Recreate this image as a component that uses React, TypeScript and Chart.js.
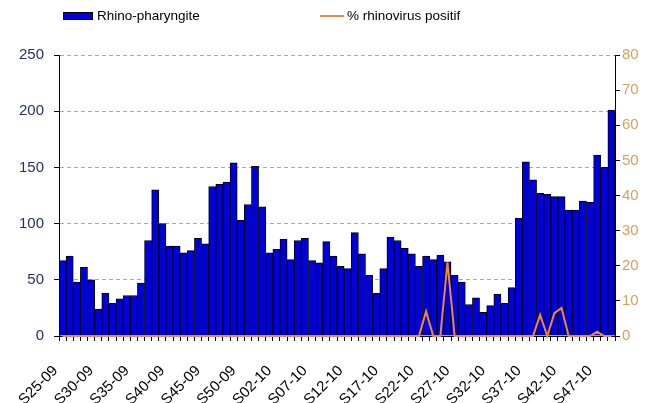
import React, { useEffect, useRef } from 'react';
import { Chart, registerables } from 'chart.js';

Chart.register(...registerables);

const weeks: string[] = [
  'S25-09', 'S26-09', 'S27-09', 'S28-09', 'S29-09', 'S30-09', 'S31-09', 'S32-09', 'S33-09', 'S34-09',
  'S35-09', 'S36-09', 'S37-09', 'S38-09', 'S39-09', 'S40-09', 'S41-09', 'S42-09', 'S43-09', 'S44-09',
  'S45-09', 'S46-09', 'S47-09', 'S48-09', 'S49-09', 'S50-09', 'S51-09', 'S52-09', 'S53-09',
  'S01-10', 'S02-10', 'S03-10', 'S04-10', 'S05-10', 'S06-10', 'S07-10', 'S08-10', 'S09-10', 'S10-10',
  'S11-10', 'S12-10', 'S13-10', 'S14-10', 'S15-10', 'S16-10', 'S17-10', 'S18-10', 'S19-10', 'S20-10',
  'S21-10', 'S22-10', 'S23-10', 'S24-10', 'S25-10', 'S26-10', 'S27-10', 'S28-10', 'S29-10', 'S30-10',
  'S31-10', 'S32-10', 'S33-10', 'S34-10', 'S35-10', 'S36-10', 'S37-10', 'S38-10', 'S39-10', 'S40-10',
  'S41-10', 'S42-10', 'S43-10', 'S44-10', 'S45-10', 'S46-10', 'S47-10', 'S48-10', 'S49-10',
];

const rhinoPharyngite: number[] = [
  67, 71, 48, 61, 50, 24, 38, 29, 33, 36,
  36, 47, 85, 130, 100, 80, 80, 74, 76, 87,
  82, 133, 135, 137, 154, 103, 117, 151, 115,
  74, 77, 86, 68, 85, 87, 67, 65, 84, 71,
  62, 60, 92, 73, 54, 38, 60, 88, 85, 78,
  73, 62, 71, 68, 72, 66, 54, 48, 28, 34,
  21, 27, 37, 29, 43, 105, 155, 139, 127, 126,
  124, 124, 112, 112, 120, 119, 161, 150, 201,
];

const pctRhinovirus: number[] = [
  0, 0, 0, 0, 0, 0, 0, 0, 0, 0,
  0, 0, 0, 0, 0, 0, 0, 0, 0, 0,
  0, 0, 0, 0, 0, 0, 0, 0, 0,
  0, 0, 0, 0, 0, 0, 0, 0, 0, 0,
  0, 0, 0, 0, 0, 0, 0, 0, 0, 0,
  0, 0, 7, 0, 0, 21, 0, 0, 0, 0,
  0, 0, 0, 0, 0, 0, 0, 0, 6, 0,
  6.5, 8, 0, 0, 0, 0, 1.2, 0, 0,
];

const leftAxisMax = 250;
const leftAxisStep = 50;
const rightAxisMax = 80;
const rightAxisStep = 10;
const labelEvery = 5;

const barLabel = 'Rhino-pharyngite';
const lineLabel = '% rhinovirus positif';

const BAR_COLOR = '#0000DC';
const LINE_COLOR = '#F0883C';
const FONT = '"Liberation Sans", Arial, sans-serif';

export default function App() {
  const canvasRef = useRef<HTMLCanvasElement | null>(null);

  useEffect(() => {
    if (!canvasRef.current) return;
    const chart = new Chart(canvasRef.current, {
      data: {
        labels: weeks,
        datasets: [
          {
            type: 'line',
            label: lineLabel,
            data: pctRhinovirus,
            yAxisID: 'y1',
            borderColor: LINE_COLOR,
            borderWidth: 2,
            pointRadius: 0,
            tension: 0,
            clip: false,
            order: 0,
          },
          {
            type: 'bar',
            label: barLabel,
            data: rhinoPharyngite,
            yAxisID: 'y',
            backgroundColor: BAR_COLOR,
            borderColor: '#000008',
            borderWidth: 1,
            categoryPercentage: 1,
            barPercentage: 1,
            order: 1,
          },
        ],
      },
      options: {
        responsive: false,
        animation: false,
        layout: { padding: { top: 55, left: 0, right: 0, bottom: 0 } },
        plugins: {
          legend: { display: false },
          tooltip: { enabled: false },
        },
        scales: {
          x: {
            type: 'category',
            offset: true,
            grid: {
              display: true,
              drawOnChartArea: false,
              drawTicks: true,
              tickLength: 5,
              tickColor: '#000',
              tickWidth: 1,
              offset: true,
            },
            border: { display: true, color: '#000', width: 1 },
            ticks: {
              autoSkip: false,
              maxRotation: 45,
              minRotation: 45,
              padding: 21,
              labelOffset: -7,
              color: '#000',
              font: { family: FONT, size: 15 },
              callback: (_v: any, i: number) => (i % labelEvery === 0 ? weeks[i] : ''),
            },
            afterFit: (scale: any) => {
              scale.height = 67;
            },
          },
          y: {
            type: 'linear',
            position: 'left',
            min: 0,
            max: leftAxisMax,
            grid: {
              color: '#A8A8A8',
              lineWidth: 1,
              tickColor: '#000',
              tickLength: 5,
              tickBorderDash: [],
            },
            border: { display: true, color: '#000', width: 1, dash: [4, 3] },
            ticks: {
              stepSize: leftAxisStep,
              padding: 10,
              color: '#23306E',
              font: { family: FONT, size: 15 },
            },
            afterFit: (scale: any) => {
              scale.width = 59;
            },
          },
          y1: {
            type: 'linear',
            position: 'right',
            min: 0,
            max: rightAxisMax,
            grid: {
              drawOnChartArea: false,
              tickColor: '#000',
              tickLength: 5,
            },
            border: { display: true, color: '#000', width: 1 },
            ticks: {
              stepSize: rightAxisStep,
              padding: 2,
              color: '#D9A05A',
              font: { family: FONT, size: 15 },
            },
            afterFit: (scale: any) => {
              scale.width = 31;
            },
          },
        },
      },
    } as any);
    return () => chart.destroy();
  }, []);

  return (
    <div style={{ position: 'absolute', left: 0, top: 0, width: 646, height: 403, background: '#fff', fontFamily: FONT }}>
      <canvas ref={canvasRef} width={646} height={403} style={{ position: 'absolute', left: 0, top: 0 }} />
      <div style={{ position: 'absolute', left: 63, top: 12, width: 28, height: 6, background: BAR_COLOR, border: '1px solid #000008' }} />
      <div style={{ position: 'absolute', left: 97, top: 7, fontSize: 13.5, lineHeight: '18px', color: '#000', whiteSpace: 'nowrap' }}>{barLabel}</div>
      <div style={{ position: 'absolute', left: 320, top: 15, width: 24, height: 2, background: LINE_COLOR }} />
      <div style={{ position: 'absolute', left: 347, top: 7, fontSize: 13.5, lineHeight: '18px', color: '#000', whiteSpace: 'nowrap' }}>{lineLabel}</div>
    </div>
  );
}
